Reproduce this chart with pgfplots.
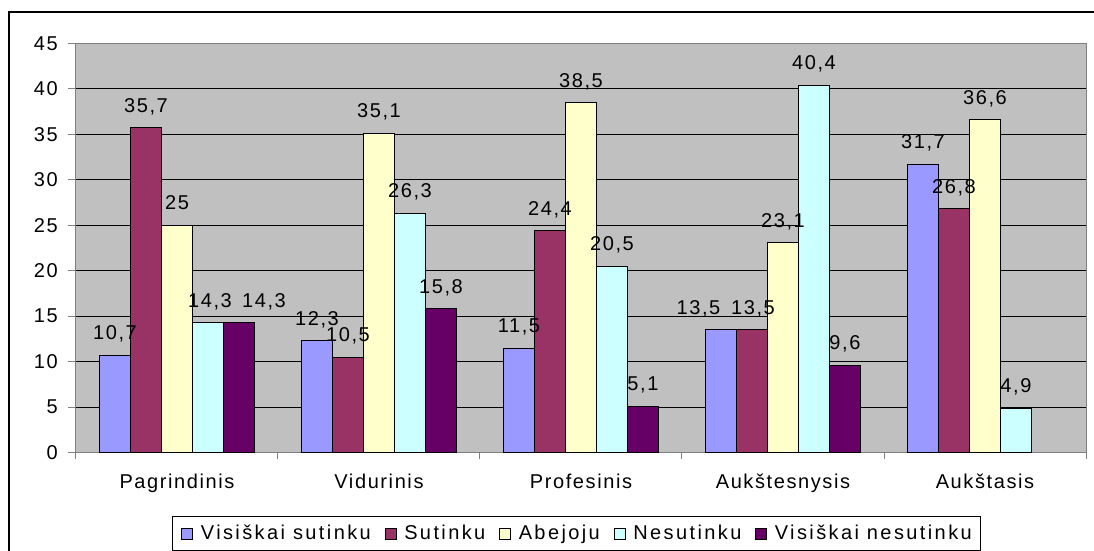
\documentclass[border=0pt]{standalone}
\usepackage{fontspec}
\setmainfont{Liberation Sans}[LetterSpace=8]
\newfontfamily\legfamily{Liberation Sans}[LetterSpace=12]
\usepackage{pgfplots}
\usepackage{pgfplotstable}
\pgfplotsset{compat=1.18}
\definecolor{cA}{HTML}{9999FF}
\definecolor{cB}{HTML}{993366}
\definecolor{cC}{HTML}{FFFFCC}
\definecolor{cD}{HTML}{CCFFFF}
\definecolor{cE}{HTML}{660066}
\definecolor{plotbg}{HTML}{C0C0C0}
\definecolor{axgray}{HTML}{808080}
\newcommand{\chfont}{\fontsize{10}{12}\selectfont}
\newcommand{\lgfont}{\legfamily\fontsize{10}{12}\selectfont}
\pgfplotstableread{
x y dx
0 10.7 0
1 12.3 0
2 11.5 0
3 13.5 -11.25
4 31.7 0
}\tA
\pgfplotstableread{
x y dx
0 35.7 0
1 10.5 0
2 24.4 0
3 13.5 0.5
4 26.8 0
}\tB
\pgfplotstableread{
x y dx
0 25 0
1 35.1 0
2 38.5 0
3 23.1 0
4 36.6 0
}\tC
\pgfplotstableread{
x y dx
0 14.3 1
1 26.3 0
2 20.5 0
3 40.4 0
4 4.9 0
}\tD
\pgfplotstableread{
x y dx
0 14.3 12.5
1 15.8 0
2 5.1 0
3 9.6 0
}\tE
\begin{document}
\begin{tikzpicture}
\useasboundingbox (0,0) rectangle (547pt,275.5pt);
\draw[black, line width=0.6pt] (4.5pt,-10pt) rectangle (600pt,269.5pt);
\begin{axis}[
  at={(38pt,49.2pt)}, anchor=south west,
  scale only axis, width=505pt, height=204.6pt,
  xmin=-0.5, xmax=4.5, ymin=0, ymax=45,
  axis background/.style={fill=plotbg},
  axis line style={draw=axgray, line width=0.5pt},
  ybar=0pt, bar width=15.5pt,
  ytick={0,5,...,45},
  xtick={0,1,2,3,4},
  xticklabels={Pagrindinis,Vidurinis,Profesinis,Aukštesnysis,Aukštasis},
  minor xtick={-0.5,0.5,1.5,2.5,3.5,4.5},
  major x tick style={draw=none},
  tick style={draw=axgray, line width=0.5pt},
  major tick length=3.9pt, minor tick length=3.4pt,
  tick align=outside, tick pos=left,
  ymajorgrids, grid style={draw=black, line width=0.5pt},
  /pgf/number format/.cd, use comma, 1000 sep={}, assume math mode=true, /pgfplots/.cd,
  yticklabel style={font=\chfont, anchor=east, inner sep=0pt, xshift=-5.05pt},
  xticklabel style={font=\chfont, anchor=base, inner sep=0pt, yshift=-14.2pt},
  nodes near coords,
  every node near coord/.append style={font=\chfont, inner sep=0pt, text depth=0pt, anchor=south, yshift=7.5pt, text=black},
  legend columns=-1,
  legend style={at={(0.09505,-0.1549)}, anchor=north west, draw=black, line width=0.5pt, fill=white,
    inner xsep=4.5pt, inner ysep=3.35pt, font=\lgfont,
    nodes={inner sep=0pt, text height=8.3pt, text depth=2pt, font=\lgfont},
    cells={anchor=base west},
    column sep=0pt},
  legend image code/.code={\path[draw=none,fill=none] (0pt,0pt) -- (9.5pt,0pt); \draw[#1, draw=black, line width=0.4pt] (0pt,0pt) rectangle (5.5pt,5.5pt);},
]
\addplot[fill=cA, draw=black, line width=0.5pt, visualization depends on={\thisrow{dx} \as \dx},
  nodes near coords style={xshift=\dx pt}] table[x=x,y=y] {\tA};
\addplot[fill=cB, draw=black, line width=0.5pt, visualization depends on={\thisrow{dx} \as \dx},
  nodes near coords style={xshift=\dx pt}] table[x=x,y=y] {\tB};
\addplot[fill=cC, draw=black, line width=0.5pt] table[x=x,y=y] {\tC};
\addplot[fill=cD, draw=black, line width=0.5pt, visualization depends on={\thisrow{dx} \as \dx},
  nodes near coords style={xshift=\dx pt}] table[x=x,y=y] {\tD};
\addplot[fill=cE, draw=black, line width=0.5pt, visualization depends on={\thisrow{dx} \as \dx},
  nodes near coords style={xshift=\dx pt}] table[x=x,y=y] {\tE};
\legend{Visiškai sutinku\kern7pt,Sutinku\kern7pt,Abejoju\kern7pt,Nesutinku\kern7pt,Visiškai nesutinku}
\end{axis}
\end{tikzpicture}
\end{document}
